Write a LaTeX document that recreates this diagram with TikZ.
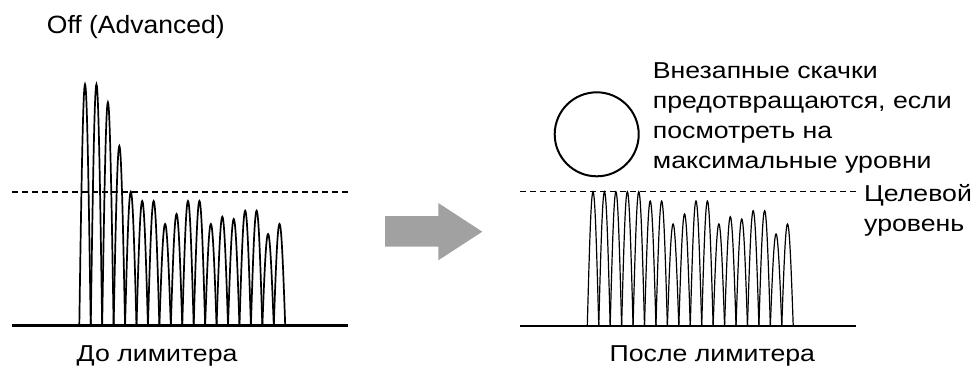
\documentclass[tikz,border=0pt]{standalone}
\usepackage{fontspec}
\setmainfont{Liberation Sans}[FakeStretch=1.16]
\newfontfamily\modefont{Liberation Sans}[FakeStretch=1.06]
\usetikzlibrary{positioning}
\definecolor{arrowgray}{HTML}{A0A1A0}
\tikzset{lbl/.style={font=\fontsize{23}{30}\selectfont,inner sep=0pt,align=left},
 axis/.style={line width=2.6pt},
 target/.style={dash pattern=on 5.5pt off 4.5pt},
 pulsein/.style={line width=1.7pt},pulseout/.style={line width=1.2pt}}
\begin{document}
\begin{tikzpicture}[x=1pt,y=-1pt]
\useasboundingbox (0,0) rectangle (977,368);
% before the limiter
\coordinate (inL) at (12,325.7);
\coordinate (inR) at (348,325.7);
\draw[axis] (inL)--(inR);
\draw[target,line width=1.7pt] (12,191.7)--(348,191.7);
\foreach \h [count=\i from 0] in {241.4,241.4,223.4,179.7,134,124.7,124.7,101.7,111.7,124.7,124.7,101.7,109,106.7,115,115,91.7,101.7}{
 \pgfmathsetmacro\xa{79.3+11.44*\i}
 \draw[pulsein] (\xa,325.7) sin ({\xa+5.72},{325.7-\h}) cos ({\xa+11.44},325.7);
}
% after the limiter
\coordinate (outL) at (520,325.7);
\coordinate (outR) at (856,325.7);
\draw[axis,line width=2.3pt] (outL)--(outR);
\coordinate (tgtL) at (520,191.7);
\coordinate (tgtR) at (857,191.7);
\draw[target,line width=1.1pt] (tgtL)--(tgtR);
\foreach \h [count=\i from 0] in {241.4,241.4,223.4,179.7,134,124.7,124.7,101.7,111.7,124.7,124.7,101.7,109,106.7,115,115,91.7,101.7}{
 \pgfmathsetmacro\xa{587.3+11.44*\i}
 \pgfmathsetmacro\hc{min(\h,134)}
 \draw[pulseout] (\xa,325.7) sin ({\xa+5.72},{325.7-\hc}) cos ({\xa+11.44},325.7);
}
\node[draw,circle,line width=2pt,minimum size=84pt,inner sep=0pt] (peak) at (596.7,134.3) {};
% arrow between
\fill[arrowgray] (385,216)--(438.3,216)--(438.3,203)--(482.3,231.7)--(438.3,260.3)--(438.3,246.7)--(385,246.7)--cycle;
% texts
\node[lbl,font=\modefont\fontsize{25}{30}\selectfont,anchor=base west] (mode) at (46.7,33.3) {Off (Advanced)};
\node[lbl,anchor=base west] (before) at (76.5,361) {До лимитера};
\node[lbl,anchor=base west] (after) at (609.5,361) {После лимитера};
\node[lbl,anchor=north west] (note) at (652.7,62.3) {Внезапные скачки\\предотвращаются, если\\посмотреть на\\максимальные уровни};
\node[lbl,anchor=north west] (tgt) at (864,184.5) {Целевой\\уровень};
\end{tikzpicture}
\end{document}
